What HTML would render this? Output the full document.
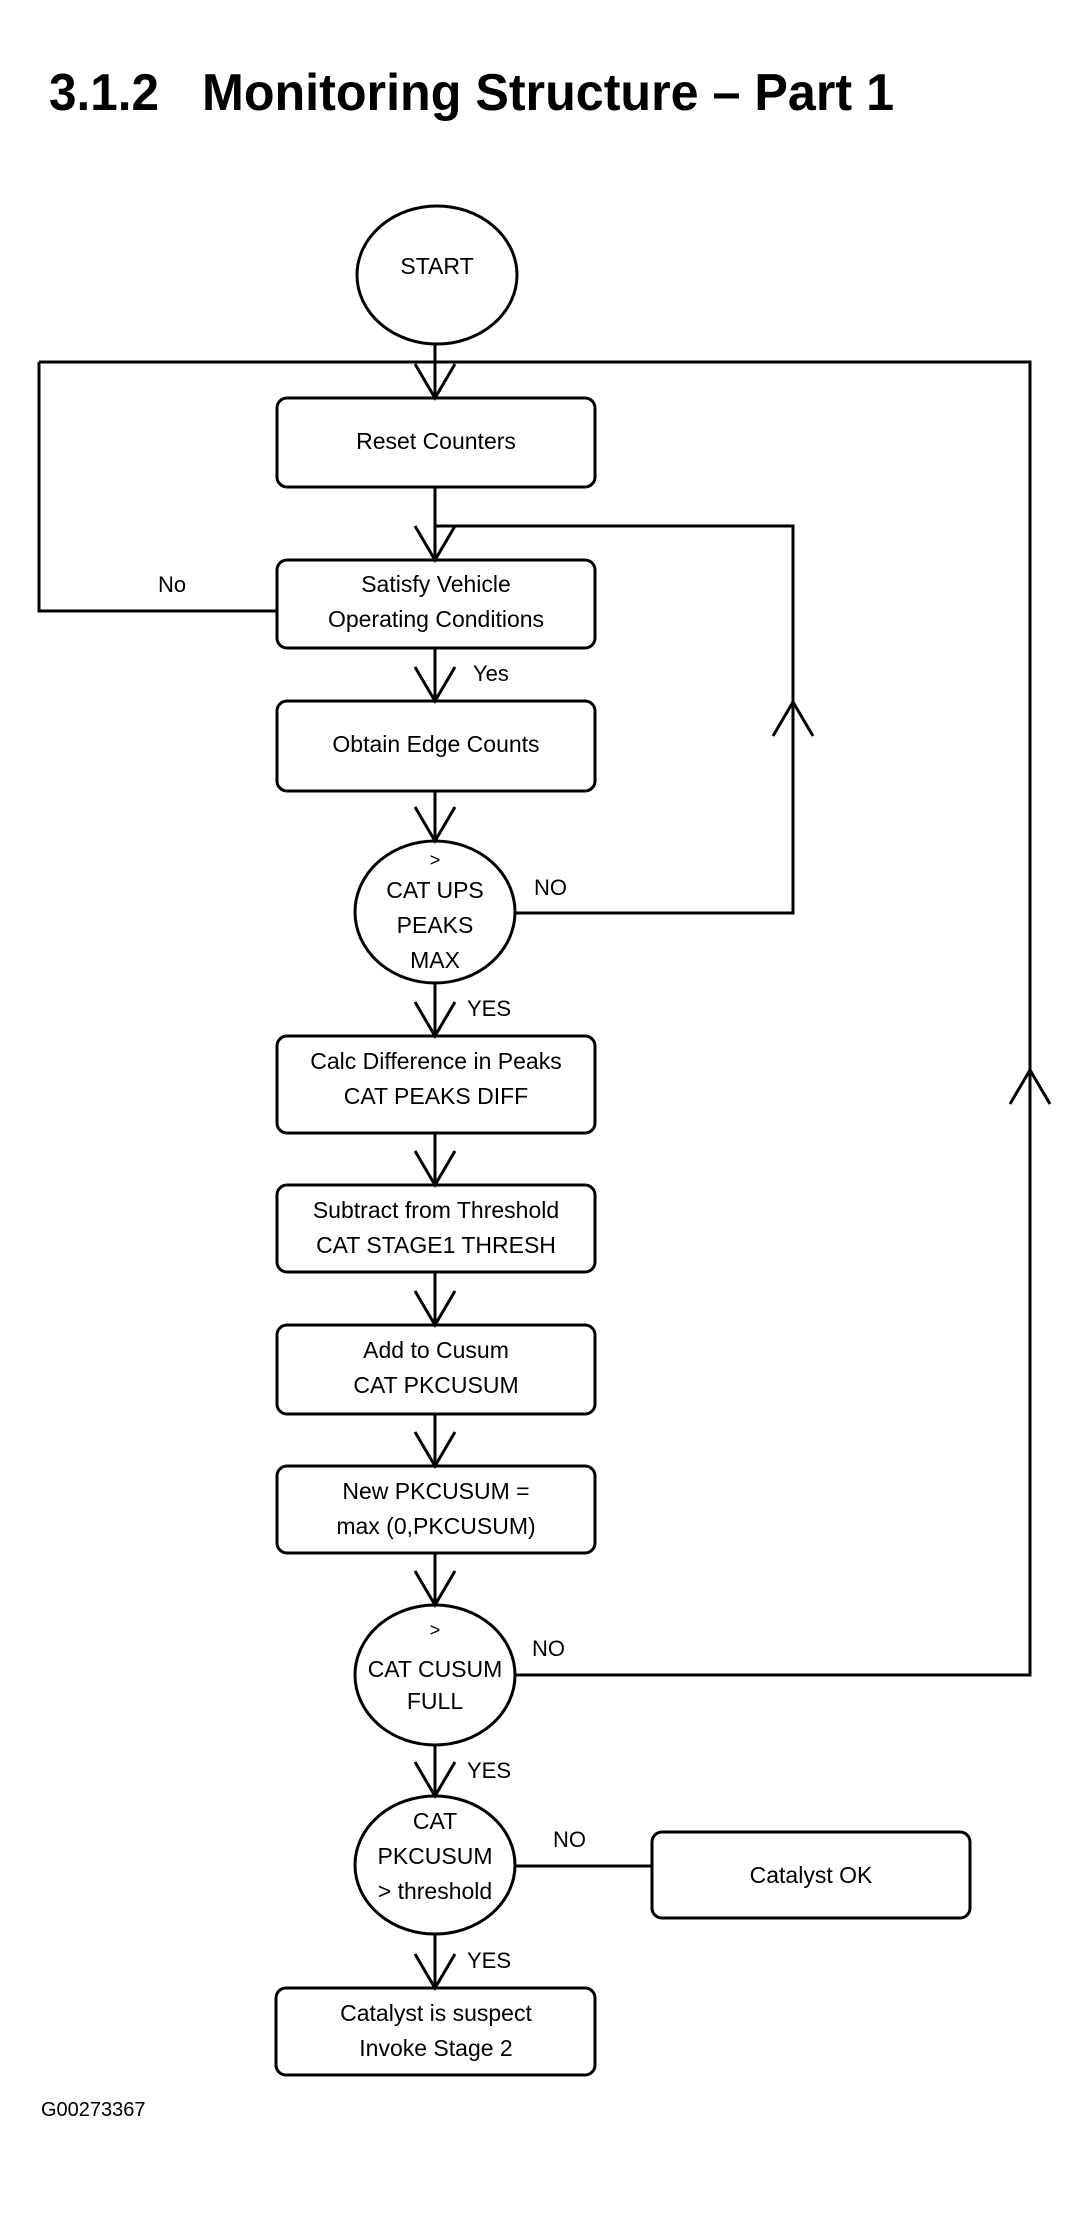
<!DOCTYPE html>
<html><head><meta charset="utf-8"><style>
html,body{margin:0;padding:0;background:#fff;}
svg{display:block}
text{font-family:"Liberation Sans",Arial,sans-serif;fill:#000}
</style></head><body>
<svg width="1074" height="2216" viewBox="0 0 1074 2216" xmlns="http://www.w3.org/2000/svg">
<text x="49" y="110" font-size="52" font-weight="bold" textLength="110" lengthAdjust="spacingAndGlyphs">3.1.2</text>
<text x="202" y="110" font-size="52" font-weight="bold" textLength="692" lengthAdjust="spacingAndGlyphs">Monitoring Structure – Part 1</text>
<g fill="none" stroke="#000" stroke-width="3">
<ellipse cx="437" cy="275" rx="80" ry="69"/>
<rect x="277" y="398" width="318" height="89" rx="10"/>
<rect x="277" y="560" width="318" height="88" rx="10"/>
<rect x="277" y="701" width="318" height="90" rx="10"/>
<ellipse cx="435" cy="912" rx="80" ry="71"/>
<rect x="277" y="1036" width="318" height="97" rx="10"/>
<rect x="277" y="1185" width="318" height="87" rx="10"/>
<rect x="277" y="1325" width="318" height="89" rx="10"/>
<rect x="277" y="1466" width="318" height="87" rx="10"/>
<ellipse cx="435" cy="1675" rx="80" ry="70"/>
<ellipse cx="435" cy="1865" rx="80" ry="69"/>
<rect x="652" y="1832" width="318" height="86" rx="10"/>
<rect x="276" y="1988" width="319" height="87" rx="10"/>
<path d="M435 344V398M39 362H1030V1675H515M39 362V611H277"/>
<path d="M435 487V560M435 526H793V913H515"/>
<path d="M435 648V701M435 791V841M435 983V1036M435 1133V1185M435 1272V1325M435 1414V1466M435 1553V1605M435 1745V1796M435 1934V1988M515 1866H652"/>
<path d="M415 364L435 398L455 364M415 526L435 560L455 526M415 667L435 701L455 667M415 807L435 841L455 807M415 1002L435 1036L455 1002M415 1151L435 1185L455 1151M415 1291L435 1325L455 1291M415 1432L435 1466L455 1432M415 1571L435 1605L455 1571M415 1762L435 1796L455 1762M415 1954L435 1988L455 1954"/>
<path d="M773 736L793 702L813 736M1010 1104L1030 1070L1050 1104"/>
</g>
<g font-size="23" text-anchor="middle">
<text x="437" y="274">START</text>
<text x="436" y="449">Reset Counters</text>
<text x="436" y="592">Satisfy Vehicle</text>
<text x="436" y="627">Operating Conditions</text>
<text x="436" y="752">Obtain Edge Counts</text>
<text x="435" y="866" font-size="18">&gt;</text>
<text x="435" y="898">CAT UPS</text>
<text x="435" y="933">PEAKS</text>
<text x="435" y="968">MAX</text>
<text x="436" y="1069">Calc Difference in Peaks</text>
<text x="436" y="1104">CAT PEAKS DIFF</text>
<text x="436" y="1218">Subtract from Threshold</text>
<text x="436" y="1253">CAT STAGE1 THRESH</text>
<text x="436" y="1358">Add to Cusum</text>
<text x="436" y="1393">CAT PKCUSUM</text>
<text x="436" y="1499">New PKCUSUM =</text>
<text x="436" y="1534">max (0,PKCUSUM)</text>
<text x="435" y="1636" font-size="18">&gt;</text>
<text x="435" y="1677">CAT CUSUM</text>
<text x="435" y="1709">FULL</text>
<text x="435" y="1829">CAT</text>
<text x="435" y="1864">PKCUSUM</text>
<text x="435" y="1899">&gt; threshold</text>
<text x="811" y="1883">Catalyst OK</text>
<text x="436" y="2021">Catalyst is suspect</text>
<text x="436" y="2056">Invoke Stage 2</text>
</g>
<g font-size="22">
<text x="158" y="592">No</text>
<text x="473" y="681">Yes</text>
<text x="534" y="895">NO</text>
<text x="467" y="1016">YES</text>
<text x="532" y="1656">NO</text>
<text x="467" y="1778">YES</text>
<text x="553" y="1847">NO</text>
<text x="467" y="1968">YES</text>
<text x="41" y="2116" font-size="20">G00273367</text>
</g>
</svg>
</body></html>
